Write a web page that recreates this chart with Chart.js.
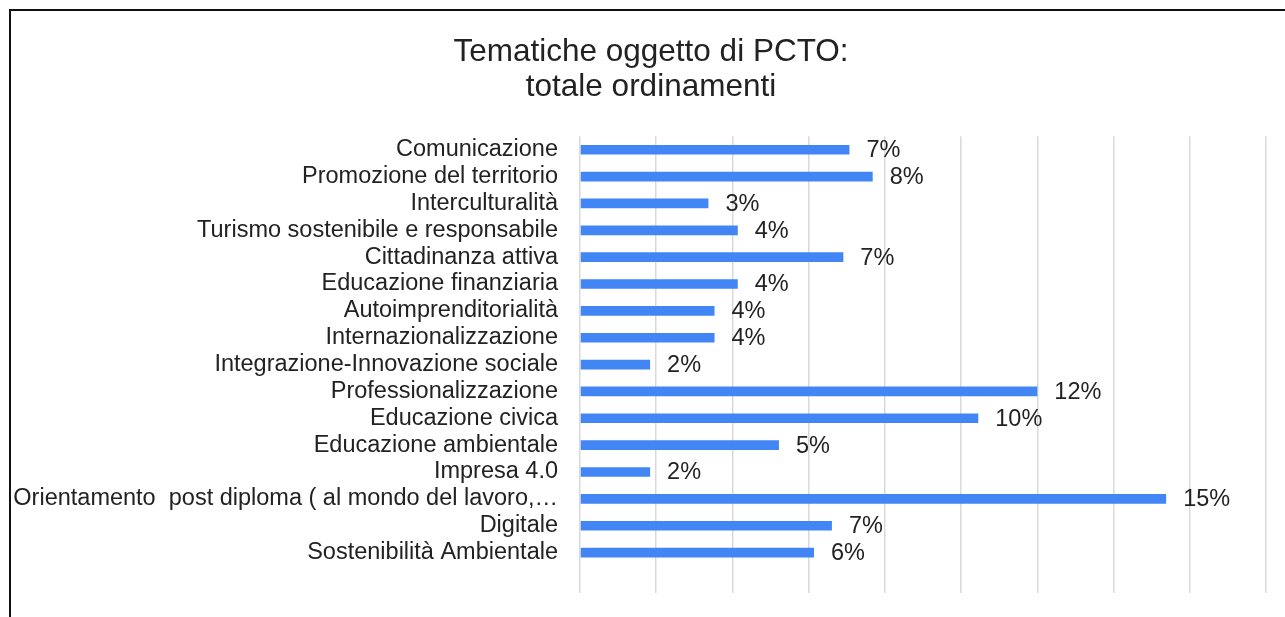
<!DOCTYPE html>
<html>
<head>
<meta charset="utf-8">
<script src="https://cdn.jsdelivr.net/npm/chart.js@4/dist/chart.umd.min.js"></script>
<style>
    html, body { margin: 0; padding: 0; background: #fff; overflow: hidden; }
    #frame {
        position: absolute; left: 9px; top: 9px; width: 1276px; height: 608px;
        border-top: 2px solid #111; border-left: 2px solid #111;
        box-sizing: border-box;
    }
    #wrap { position: absolute; left: 11px; top: 11px; width: 1299px; height: 606px; }
</style>
</head>
<body>
<div id="frame"></div>
<div id="wrap"><canvas id="pctoChart"></canvas></div>
<script>
const categories = [
    'Comunicazione',
    'Promozione del territorio',
    'Interculturalità',
    'Turismo sostenibile e responsabile',
    'Cittadinanza attiva',
    'Educazione finanziaria',
    'Autoimprenditorialità',
    'Internazionalizzazione',
    'Integrazione-Innovazione sociale',
    'Professionalizzazione',
    'Educazione civica',
    'Educazione ambientale',
    'Impresa 4.0',
    'Orientamento  post diploma ( al mondo del lavoro,…',
    'Digitale',
    'Sostenibilità Ambientale'
];
// shares of the total
const shares = [
    0.0707, 0.0768, 0.0337, 0.0414, 0.0691, 0.0414, 0.0353, 0.0353,
    0.0184, 0.1200, 0.1045, 0.0522, 0.0184, 0.1538, 0.0661, 0.0614
];
const xMax = 0.18;
const xStep = 0.02;

const fontFamily = '"Liberation Sans", Arial, Helvetica, sans-serif';

// draws the percentage at the end of each bar
const barLabels = {
    id: 'barLabels',
    afterDatasetsDraw(chart) {
        const ctx = chart.ctx;
        const meta = chart.getDatasetMeta(0);
        ctx.save();
        ctx.font = '23.5px ' + fontFamily;
        ctx.fillStyle = '#222';
        ctx.textAlign = 'left';
        ctx.textBaseline = 'middle';
        meta.data.forEach((bar, i) => {
            ctx.fillText(Math.round(shares[i] * 100) + '%', bar.x + 17, bar.y + 1);
        });
        ctx.restore();
    }
};

new Chart(document.getElementById('pctoChart').getContext('2d'), {
    type: 'bar',
    data: {
        labels: categories,
        datasets: [{
            data: shares,
            backgroundColor: '#4285F4',
            categoryPercentage: 1,
            barPercentage: 0.36
        }]
    },
    plugins: [barLabels],
    options: {
        indexAxis: 'y',
        responsive: true,
        maintainAspectRatio: false,
        animation: false,
        layout: { padding: { left: 0, right: 19, top: 0, bottom: 24 } },
        plugins: {
            legend: { display: false },
            tooltip: { enabled: false },
            title: {
                display: true,
                text: ['Tematiche oggetto di PCTO:', 'totale ordinamenti'],
                color: '#222',
                font: { family: fontFamily, size: 31.5, weight: 'normal', lineHeight: 1.1 },
                padding: { top: 24, bottom: 32 }
            }
        },
        scales: {
            x: {
                min: 0,
                max: xMax,
                ticks: { display: false, stepSize: xStep },
                grid: { color: '#d9d9d9', lineWidth: 1.5, drawTicks: true, tickLength: 27 },
                border: { display: false }
            },
            y: {
                afterFit(scale) { scale.width = 569; },
                ticks: {
                    color: '#222',
                    padding: 22,
                    autoSkip: false,
                    font: { family: fontFamily, size: 23.5 }
                },
                grid: { display: false, drawTicks: false },
                border: { display: false }
            },
            // empty right-hand strip, keeps the plot clear of the right edge
            yRight: {
                type: 'category',
                position: 'right',
                afterFit(scale) { scale.width = 25; },
                ticks: { display: false },
                grid: { display: false, drawTicks: false },
                border: { display: false }
            }
        }
    }
});
</script>
</body>
</html>
